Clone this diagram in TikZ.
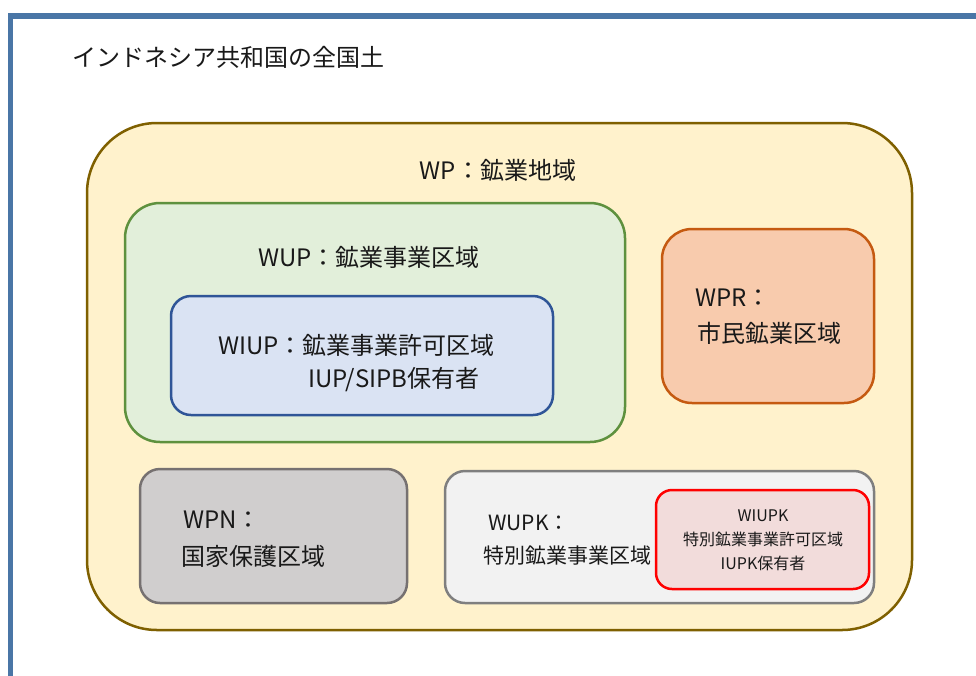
\documentclass[tikz,border=0pt]{standalone}
\usepackage{fontspec}
\setmainfont{Noto Sans CJK JP}
\definecolor{framebl}{RGB}{74,118,166}
\definecolor{wpfill}{HTML}{FFF2CC}
\definecolor{wpline}{HTML}{7F6000}
\definecolor{wupfill}{HTML}{E2EFDA}
\definecolor{wupline}{HTML}{5E913E}
\definecolor{wiupfill}{HTML}{DAE3F3}
\definecolor{wiupline}{HTML}{2F5597}
\definecolor{wprfill}{HTML}{F8CBAD}
\definecolor{wprline}{HTML}{C55A11}
\definecolor{wpnfill}{HTML}{D0CECE}
\definecolor{wpnline}{HTML}{767171}
\definecolor{wupkfill}{HTML}{F2F2F2}
\definecolor{wupkline}{HTML}{7F7F7F}
\definecolor{wiupkfill}{HTML}{F2DCDB}
\definecolor{wiupkline}{HTML}{FF0000}
\tikzset{
  area/.style={draw, line width=2.5pt, inner sep=0pt},
  big/.style={font=\fontsize{24}{28}\selectfont, inner sep=0pt, text=black!90},
  mid/.style={font=\fontsize{21}{25}\selectfont, inner sep=0pt, text=black!90},
  small/.style={font=\fontsize{16}{24}\selectfont, inner sep=0pt, text=black!90, align=center},
}
\begin{document}
\begin{tikzpicture}[x=1pt,y=-1pt]
\useasboundingbox (0,0) rectangle (976,675);
\fill[white] (0,0) rectangle (976,675);
% frame
\coordinate (fa) at (10.5,680);
\coordinate (fb) at (10.5,16);
\coordinate (fc) at (985,16);
\draw[framebl, line width=5.5pt] (fa) -- (fb) -- (fc);
\node[big, anchor=west] (title) at (72,57) {インドネシア共和国の全国土};
% WP
\node[area, draw=wpline, fill=wpfill, rounded corners=70pt, minimum width=825pt, minimum height=507pt] (wp) at (499.5,376.5) {};
\node[big] (wpt) at (498,170) {WP：鉱業地域};
% WUP
\node[area, draw=wupline, fill=wupfill, rounded corners=35pt, minimum width=500pt, minimum height=239pt] (wup) at (375,322.5) {};
\node[big, anchor=west] (wupt) at (258,257) {WUP：鉱業事業区域};
% WIUP
\node[area, draw=wiupline, fill=wiupfill, rounded corners=20pt, minimum width=382pt, minimum height=119pt] (wiup) at (362,355.5) {};
\node[big, anchor=west] (wiupt1) at (218,345) {WIUP：鉱業事業許可区域};
\node[big, anchor=west] (wiupt2) at (308,380) {IUP/SIPB保有者};
% WPR
\node[area, draw=wprline, fill=wprfill, rounded corners=30pt, minimum width=212pt, minimum height=174pt] (wpr) at (768,316) {};
\node[big, anchor=west] (wprt1) at (695,298) {WPR：};
\node[big, anchor=west] (wprt2) at (697,333) {市民鉱業区域};
% WPN
\node[area, draw=wpnline, fill=wpnfill, rounded corners=20pt, minimum width=267pt, minimum height=134pt] (wpn) at (273.5,536) {};
\node[big, anchor=west] (wpnt1) at (183,520) {WPN：};
\node[big, anchor=west] (wpnt2) at (181,556) {国家保護区域};
% WUPK
\node[area, draw=wupkline, fill=wupkfill, rounded corners=20pt, minimum width=429pt, minimum height=132pt] (wupk) at (659.5,537) {};
\node[mid, anchor=west] (wupkt1) at (488,523) {WUPK：};
\node[mid, anchor=west] (wupkt2) at (483,556) {特別鉱業事業区域};
% WIUPK
\node[area, draw=wiupkline, fill=wiupkfill, rounded corners=16pt, minimum width=213pt, minimum height=99pt] (wiupk) at (762.5,539.5) {};
\node[small] (wiupkt) at (763,540) {WIUPK\\特別鉱業事業許可区域\\IUPK保有者};
\end{tikzpicture}
\end{document}
